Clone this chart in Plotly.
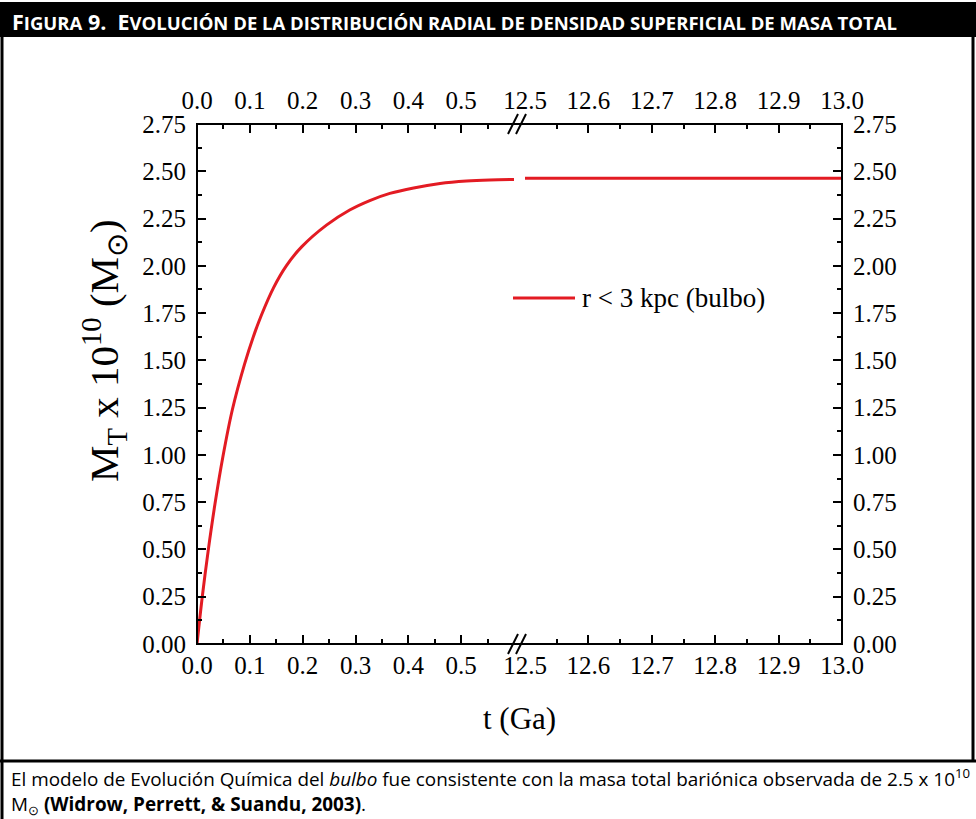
import plotly.graph_objects as go

# Early evolution (0 - 0.6 Ga) of the bulge total mass, units of 1e10 Msun
t_early = [0, 0.01, 0.021, 0.034, 0.049, 0.067, 0.09, 0.106, 0.122, 0.145, 0.169,
           0.198, 0.245, 0.289, 0.327, 0.365, 0.41, 0.46, 0.51, 0.554, 0.6]
m_early = [0, 0.25, 0.49, 0.74, 0.99, 1.24, 1.48, 1.62, 1.74, 1.885, 2.00,
           2.10, 2.215, 2.295, 2.345, 2.383, 2.412, 2.435, 2.448, 2.454, 2.457]

# Late evolution (12.5 - 13.0 Ga)
t_late = [12.5, 12.6, 12.7, 12.8, 12.9, 13.0]
m_late = [2.463, 2.463, 2.463, 2.463, 2.463, 2.463]

# Axis ticks
x_left_ticks = [0.0, 0.1, 0.2, 0.3, 0.4, 0.5]
x_left_minor = [0.05, 0.15, 0.25, 0.35, 0.45, 0.55]
x_right_ticks = [12.5, 12.6, 12.7, 12.8, 12.9, 13.0]
x_right_minor = [12.55, 12.65, 12.75, 12.85, 12.95]
y_ticks = [0.0, 0.25, 0.5, 0.75, 1.0, 1.25, 1.5, 1.75, 2.0, 2.25, 2.5, 2.75]

series_name = "r < 3 kpc (bulbo)"
RED = "#e31b23"
SERIF = "Liberation Serif"
SANS = "Open Sans"

# page geometry in pixels
PW, PH = 976, 819
L, R, T, B = 197, 842, 124, 644
W, H = R - L, B - T


def px(x):
    return (x - L) / W


def py(y):
    return (B - y) / H


left_dom = [0, 317 / W]
right_dom = [328 / W, 1]

fig = go.Figure()
fig.add_trace(go.Scatter(x=t_early, y=m_early, xaxis="x", yaxis="y", mode="lines",
                         line=dict(color=RED, width=3, shape="spline", smoothing=1.0),
                         name=series_name, showlegend=False, hoverinfo="skip"))
fig.add_trace(go.Scatter(x=t_late, y=m_late, xaxis="x2", yaxis="y", mode="lines",
                         line=dict(color=RED, width=3),
                         name=series_name, showlegend=False, hoverinfo="skip"))
# carrier traces so the mirrored top / right axes get drawn
fig.add_trace(go.Scatter(x=[0], y=[0], xaxis="x3", yaxis="y", mode="markers",
                         marker=dict(opacity=0), showlegend=False, hoverinfo="skip"))
fig.add_trace(go.Scatter(x=[12.5], y=[0], xaxis="x4", yaxis="y2", mode="markers",
                         marker=dict(opacity=0), showlegend=False, hoverinfo="skip"))

tick_font = dict(family=SERIF, size=25, color="black")
common = dict(showgrid=False, zeroline=False, showline=False, ticks="inside",
              ticklen=9, tickwidth=2, tickcolor="black", tickfont=tick_font)


def xax(rng, dom, vals, minor_vals, side, standoff, overlay=None):
    d = dict(common, range=rng, tickvals=vals, ticktext=[f"{v:.1f}" for v in vals],
             side=side, anchor="y", ticklabelstandoff=standoff,
             minor=dict(tickvals=minor_vals, ticks="inside", ticklen=5,
                        tickwidth=2, tickcolor="black"))
    if overlay:
        d["overlaying"] = overlay
    else:
        d["domain"] = dom
    return d


ymin = dict(tickvals=[v + 0.125 for v in y_ticks[:-1]], ticks="inside", ticklen=5,
            tickwidth=2, tickcolor="black")

fig.update_layout(
    width=PW, height=PH,
    margin=dict(l=L, r=PW - R, t=T, b=PH - B),
    paper_bgcolor="white", plot_bgcolor="white",
    showlegend=False,
    xaxis=xax([0, 0.6], left_dom, x_left_ticks, x_left_minor, "bottom", 4),
    xaxis2=xax([12.5, 13.0], right_dom, x_right_ticks, x_right_minor, "bottom", 4),
    xaxis3=xax([0, 0.6], left_dom, x_left_ticks, x_left_minor, "top", 9, overlay="x"),
    xaxis4=xax([12.5, 13.0], right_dom, x_right_ticks, x_right_minor, "top", 9,
               overlay="x2"),
    yaxis=dict(common, range=[0, 2.75], tickvals=y_ticks,
               ticktext=[f"{v:.2f}" for v in y_ticks], anchor="x", side="left",
               ticklabelstandoff=10, minor=ymin),
    yaxis2=dict(common, range=[0, 2.75], tickvals=y_ticks,
                ticktext=[f"{v:.2f}" for v in y_ticks], anchor="x2", side="right",
                ticklabelstandoff=10, overlaying="y", minor=ymin),
)

shapes = []
# plot frame
shapes.append(dict(type="rect", xref="paper", yref="paper", x0=0, x1=1, y0=0, y1=1,
                   line=dict(color="black", width=2), fillcolor="rgba(0,0,0,0)"))
# axis break marks on top and bottom
for yy in (T, B):
    for cx in (513, 521):
        shapes.append(dict(type="line", xref="paper", yref="paper",
                           x0=px(cx - 5), y0=py(yy + 10), x1=px(cx + 5), y1=py(yy - 10),
                           line=dict(color="black", width=2)))
# legend sample line
shapes.append(dict(type="line", xref="paper", yref="paper",
                   x0=px(513), x1=px(575), y0=py(298), y1=py(298),
                   line=dict(color=RED, width=3)))
# page decoration: header bar, borders, caption separator
shapes.append(dict(type="rect", xref="paper", yref="paper", x0=px(0), x1=px(PW),
                   y0=py(37), y1=py(2), fillcolor="black", line=dict(width=0), layer="below"))
shapes.append(dict(type="line", xref="paper", yref="paper", x0=px(2), x1=px(2),
                   y0=py(37), y1=py(PH), line=dict(color="black", width=3)))
shapes.append(dict(type="line", xref="paper", yref="paper", x0=px(973), x1=px(973),
                   y0=py(37), y1=py(761), line=dict(color="black", width=3)))
shapes.append(dict(type="line", xref="paper", yref="paper", x0=px(0), x1=px(PW),
                   y0=py(761), y1=py(761), line=dict(color="black", width=3)))

SC = '<span style="font-size:18.5px">'
header = (f"<b>F{SC}IGURA</span> 9.\u00a0\u00a0E{SC}VOLUCIÓN DE LA DISTRIBUCIÓN RADIAL DE "
          f"DENSIDAD SUPERFICIAL DE MASA TOTAL</span></b>")

annotations = [
    dict(text=header, xref="paper", yref="paper", x=px(10), y=py(21), xanchor="left",
         yanchor="middle", showarrow=False, font=dict(family=SANS, size=21.5, color="white")),
    dict(text=series_name, xref="paper", yref="paper", x=px(580), y=py(298),
         xanchor="left", yanchor="middle", showarrow=False,
         font=dict(family=SERIF, size=27, color="black")),
    dict(text="t (Ga)", xref="paper", yref="paper", x=0.5, y=py(718),
         xanchor="center", yanchor="middle", showarrow=False,
         font=dict(family=SERIF, size=31, color="black")),
    dict(text="M<sub>T</sub> x 10<sup>10</sup> (M<sub>\u2299</sub>)", xref="paper",
         yref="paper", x=px(104), y=py(350), textangle=-90, xanchor="center",
         yanchor="middle", showarrow=False,
         font=dict(family=SERIF, size=41, color="black")),
    dict(text=("El modelo de Evolución Química del <i>bulbo</i> fue consistente con la "
               "masa total bariónica observada de 2.5 x 10<sup>10</sup>"),
         xref="paper", yref="paper", x=px(9), y=py(778), xanchor="left", yanchor="middle",
         showarrow=False, font=dict(family=SANS, size=18.9, color="black")),
    dict(text="M<sub>\u2299</sub> <b>(Widrow, Perrett, &amp; Suandu, 2003)</b>.",
         xref="paper", yref="paper", x=px(9), y=py(805), xanchor="left", yanchor="middle",
         showarrow=False, font=dict(family=SANS, size=18.9, color="black")),
]

fig.update_layout(shapes=shapes, annotations=annotations)
fig.write_html("out.html")
